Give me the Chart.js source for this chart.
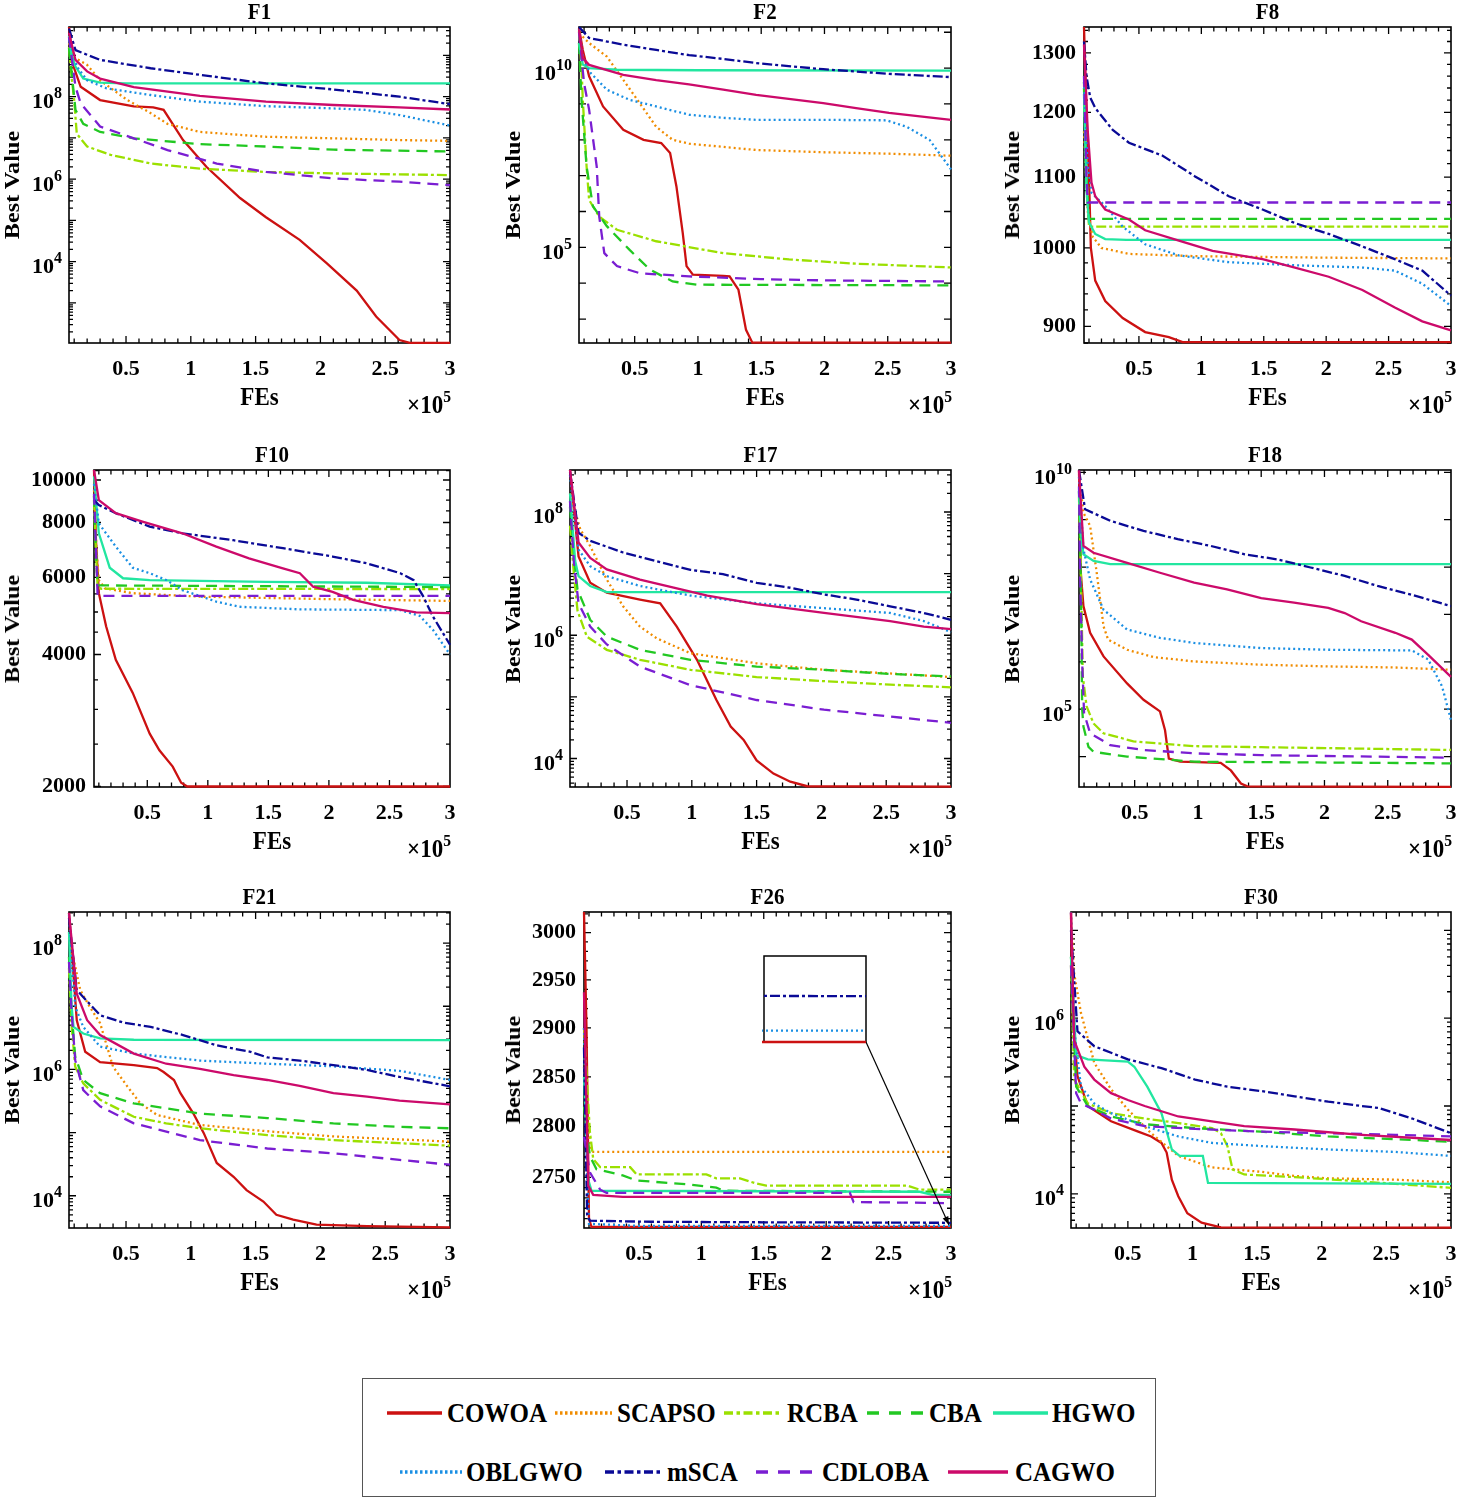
<!DOCTYPE html>
<html><head><meta charset="utf-8">
<script src="https://cdn.jsdelivr.net/npm/chart.js@4.4.1/dist/chart.umd.min.js"></script>
<style>
html,body{margin:0;padding:0;background:#fff;}
#wrap{position:relative;width:1458px;height:1500px;overflow:hidden;font-family:"Liberation Serif","Times New Roman",serif;font-weight:bold;color:#000;}
canvas{position:absolute;}
.t{position:absolute;white-space:nowrap;line-height:1;}
.t sup{font-size:0.68em;position:relative;top:-0.62em;vertical-align:baseline;}
.t .e{font-size:16px;position:relative;top:-10px;vertical-align:baseline;}
#legend{position:absolute;left:362px;top:1378px;width:792px;height:117px;border:1.5px solid #555;box-sizing:content-box;}
</style></head>
<body><div id="wrap"><div id="legend"></div></div>
<script>
// ---------- series / categories ----------
const NAMES = ['COWOA','SCAPSO','RCBA','CBA','HGWO','OBLGWO','mSCA','CDLOBA','CAGWO'];
const X_TICKS = [0.5,1,1.5,2,2.5,3];
const X_MIN = 0.06, X_MAX = 3;

// ---------- F1 ----------
const F1_COWOA = [[0.06,4.9e9],[0.09,6e8],[0.15,1.74e8],[0.3,8.3e7],[0.56,5.8e7],[0.71,5.5e7],[0.79,4.8e7],[0.94,8.9e6],[1.12,2.0e6],[1.38,3.5e5],[1.58,1.2e5],[1.84,3.4e4],[2.05,9.1e3],[2.28,2.0e3],[2.43,4.7e2],[2.61,1.26e2],[2.69,1.08e2],[3,1.08e2]];
const F1_SCAPSO = [[0.06,2e9],[0.09,9.3e8],[0.2,5.9e8],[0.3,2.5e8],[0.51,8.3e7],[0.69,4e7],[0.82,2.2e7],[1.07,1.4e7],[1.58,1.07e7],[2.1,9.8e6],[2.61,8.9e6],[3,8.5e6]];
const F1_RCBA = [[0.06,1.6e9],[0.08,3e8],[0.1,8.3e7],[0.12,1.26e7],[0.2,6.2e6],[0.38,3.9e6],[0.69,2.4e6],[1.07,1.8e6],[1.58,1.5e6],[2.1,1.38e6],[3,1.26e6]];
const F1_CBA = [[0.06,1.5e9],[0.08,4e8],[0.11,4.8e7],[0.17,2.2e7],[0.3,1.4e7],[0.56,9.8e6],[1.07,7.1e6],[1.58,6.2e6],[2.1,5.2e6],[3,4.7e6]];
const F1_HGWO = [[0.06,3e9],[0.08,1e9],[0.11,5.4e8],[0.17,2.75e8],[0.3,2.2e8],[0.5,2.1e8],[3,2.1e8]];
const F1_OBLGWO = [[0.06,2.5e9],[0.12,5.4e8],[0.2,2.5e8],[0.35,1.6e8],[0.69,1.1e8],[1.07,7.6e7],[1.58,5.9e7],[2.1,5.2e7],[2.35,4.8e7],[2.61,3.6e7],[3,2.0e7]];
const F1_mSCA = [[0.06,4.5e9],[0.11,1.35e9],[0.3,7.8e8],[0.69,4.9e8],[1.07,3.4e8],[1.58,2.1e8],[2.1,1.5e8],[2.61,1e8],[3,6.6e7]];
const F1_CDLOBA = [[0.06,2.8e9],[0.11,1.74e8],[0.15,6.9e7],[0.3,1.9e7],[0.56,9.8e6],[0.82,5.1e6],[1.2,2.4e6],[1.58,1.5e6],[2.1,1.05e6],[2.61,8.7e5],[3,7.2e5]];
const F1_CAGWO = [[0.06,3.5e9],[0.11,7.8e8],[0.2,4.1e8],[0.3,2.75e8],[0.56,1.7e8],[1.07,1.05e8],[1.58,7.6e7],[2.1,6.3e7],[2.61,5.5e7],[3,4.9e7]];
const F1_YTICKS = [1e4,1e6,1e8];
const F1_YLABELS = ['10^4','10^6','10^8'];

// ---------- F2 ----------
const F2_COWOA = [[0.06,1.3e11],[0.09,3.2e10],[0.14,5.9e9],[0.25,8.5e8],[0.41,1.9e8],[0.57,1e8],[0.71,8.1e7],[0.78,4.3e7],[0.83,5e6],[0.88,2.5e5],[0.91,3e4],[0.96,1.74e4],[1.2,1.6e4],[1.25,1.55e4],[1.32,6.6e3],[1.38,5e2],[1.43,2.2e2],[3,2.2e2]];
const F2_SCAPSO = [[0.06,9.5e10],[0.14,5e10],[0.28,2.1e10],[0.41,4.7e9],[0.54,1.05e9],[0.67,2.3e8],[0.8,1e8],[0.93,7.8e7],[1.46,5.2e7],[1.99,4.5e7],[2.51,4.1e7],[3,3.6e7]];
const F2_RCBA = [[0.06,1.1e11],[0.08,1e10],[0.09,1.3e9],[0.12,1.8e7],[0.14,2.1e6],[0.22,7.2e5],[0.36,3.1e5],[0.67,1.48e5],[1.2,6.9e4],[1.72,4.6e4],[2.25,3.5e4],[3,2.75e4]];
const F2_CBA = [[0.06,5e10],[0.08,1.3e9],[0.12,1.8e7],[0.17,1.4e6],[0.28,3.9e5],[0.46,8.5e4],[0.62,2.4e4],[0.8,1.12e4],[0.99,9.1e3],[3,8.7e3]];
const F2_HGWO = [[0.06,5e10],[0.09,1.26e10],[0.14,1e10],[0.36,9e9],[1,8.7e9],[3,8.5e9]];
const F2_OBLGWO = [[0.06,1.2e11],[0.09,2.1e10],[0.14,8.1e9],[0.28,2.5e9],[0.46,1.3e9],[0.67,8.5e8],[0.93,5e8],[1.2,4.1e8],[1.46,3.6e8],[2.0,3.6e8],[2.49,3.5e8],[2.65,2.3e8],[2.83,1e8],[3,1.5e7]];
const F2_mSCA = [[0.06,1.4e11],[0.14,6.9e10],[0.41,4.5e10],[0.67,3.2e10],[0.93,2.3e10],[1.2,1.8e10],[1.46,1.38e10],[1.99,9.3e9],[2.51,6.9e9],[3,5.6e9]];
const F2_CDLOBA = [[0.06,1e11],[0.1,3.8e9],[0.14,6.9e8],[0.2,1.8e7],[0.22,7.2e5],[0.26,6.9e4],[0.36,3e4],[0.54,1.9e4],[0.93,1.55e4],[1.5,1.3e4],[2,1.2e4],[3,1.12e4]];
const F2_CAGWO = [[0.06,1.2e11],[0.09,1.9e10],[0.14,1.23e10],[0.41,6.5e9],[0.67,4.6e9],[0.93,3.5e9],[1.2,2.5e9],[1.46,1.8e9],[1.99,1.05e9],[2.25,7.6e8],[2.51,5.6e8],[3,3.6e8]];
const F2_YTICKS = [1e5,1e10];
const F2_YLABELS = ['10^5','10^10'];

// ---------- F8 ----------
const F8_COWOA = [[0.06,1346],[0.08,1200],[0.1,1100],[0.115,1000],[0.15,957],[0.23,931],[0.37,910],[0.55,893],[0.74,887],[0.85,881],[3,881]];
const F8_SCAPSO = [[0.06,1170],[0.09,1050],[0.13,1015],[0.2,1000],[0.42,992],[0.95,989],[2,987],[3,986]];
const F8_RCBA = [[0.06,1250],[0.08,1100],[0.1,1029],[3,1029]];
const F8_CBA = [[0.06,1240],[0.08,1100],[0.1,1040],[3,1040]];
const F8_HGWO = [[0.06,1230],[0.08,1080],[0.1,1035],[0.15,1019],[0.23,1012],[0.4,1011],[3,1011]];
const F8_OBLGWO = [[0.06,1250],[0.09,1120],[0.12,1077],[0.23,1058],[0.37,1029],[0.55,1005],[0.82,990],[1.22,981],[1.75,977],[2.29,974],[2.55,970],[2.77,953],[3,925]];
const F8_mSCA = [[0.06,1320],[0.08,1260],[0.11,1224],[0.15,1207],[0.29,1172],[0.42,1152],[0.69,1132],[0.95,1101],[1.22,1072],[1.49,1053],[1.75,1034],[2.02,1019],[2.29,1002],[2.55,985],[2.77,970],[3,938]];
const F8_CDLOBA = [[0.06,1260],[0.08,1100],[0.09,1063],[3,1063]];
const F8_CAGWO = [[0.06,1315],[0.09,1170],[0.12,1092],[0.15,1072],[0.23,1053],[0.42,1039],[0.55,1024],[0.82,1010],[1.09,996],[1.49,985],[1.75,974],[2.02,962],[2.29,945],[2.55,923],[2.77,906],[3,895]];
const F8_YTICKS = [900,1000,1100,1200,1300];
const F8_YLABELS = ['900','1000','1100','1200','1300'];

// ---------- F10 ----------
const F10_COWOA = [[0.06,10540],[0.076,7300],[0.1,5520],[0.16,4640],[0.24,3890],[0.38,3270],[0.52,2640],[0.6,2420],[0.71,2220],[0.78,2040],[0.83,2000],[3,2000]];
const F10_SCAPSO = [[0.06,9500],[0.08,7000],[0.1,5910],[0.15,5660],[0.38,5520],[0.93,5420],[2,5350],[3,5300]];
const F10_RCBA = [[0.06,9000],[0.075,7000],[0.09,5700],[0.12,5650],[3,5640]];
const F10_CBA = [[0.06,9200],[0.075,7000],[0.09,5750],[3,5700]];
const F10_HGWO = [[0.06,10200],[0.1,7560],[0.19,6310],[0.3,5970],[0.52,5910],[1.48,5860],[2.31,5830],[3,5750]];
const F10_OBLGWO = [[0.06,9800],[0.1,7960],[0.24,7050],[0.38,6310],[0.52,6130],[0.66,5910],[0.79,5610],[1.07,5280],[1.26,5140],[1.76,5070],[2.59,5050],[2.75,4900],[2.86,4550],[3,4000]];
const F10_mSCA = [[0.06,9000],[0.1,8770],[0.24,8400],[0.52,7830],[0.79,7560],[1.21,7290],[1.62,6990],[2.03,6690],[2.31,6460],[2.59,6130],[2.7,5910],[2.78,5420],[2.86,4880],[3,4210]];
const F10_CDLOBA = [[0.06,9300],[0.08,6500],[0.09,5440],[3,5440]];
const F10_CAGWO = [[0.06,10540],[0.1,9000],[0.24,8400],[0.46,8040],[0.79,7560],[1.07,7050],[1.34,6630],[1.62,6290],[1.76,6130],[1.87,5710],[2.03,5560],[2.2,5330],[2.45,5140],[2.72,4990],[3,4970]];
const F10_YTICKS = [2000,4000,6000,8000,10000];
const F10_YLABELS = ['2000','4000','6000','8000','10000'];

// ---------- F17 ----------
const F17_COWOA = [[0.06,4.8e8],[0.126,1.9e7],[0.216,7.1e6],[0.344,4.9e6],[0.6,3.8e6],[0.756,3.3e6],[0.884,1.38e6],[1.04,4e5],[1.19,8.9e4],[1.3,3.3e4],[1.4,2e4],[1.5,9.3e3],[1.63,5.7e3],[1.76,4.2e3],[1.89,3.55e3],[3,3.5e3]];
const F17_SCAPSO = [[0.06,2e8],[0.14,5.2e7],[0.216,2.8e7],[0.344,8e6],[0.47,2.95e6],[0.6,1.38e6],[0.73,8.9e5],[0.99,5.1e5],[1.5,3.5e5],[2.02,2.75e5],[2.53,2.4e5],[3,2.1e5]];
const F17_RCBA = [[0.06,6e7],[0.09,1e7],[0.118,2.5e6],[0.19,9.5e5],[0.344,5.8e5],[0.6,4e5],[0.99,2.75e5],[1.5,2.1e5],[2.02,1.8e5],[2.53,1.58e5],[3,1.43e5]];
const F17_CBA = [[0.06,1.2e8],[0.1,1.2e7],[0.118,5.5e6],[0.216,1.78e6],[0.344,9.5e5],[0.6,5.8e5],[0.99,4e5],[1.5,3.1e5],[2.02,2.75e5],[2.53,2.35e5],[3,2.15e5]];
const F17_HGWO = [[0.06,2e8],[0.1,1.6e7],[0.126,9.1e6],[0.216,6.3e6],[0.344,5e6],[3,5e6]];
const F17_OBLGWO = [[0.06,4e8],[0.126,2.45e7],[0.216,1.32e7],[0.344,9.1e6],[0.6,6.3e6],[0.99,4.4e6],[1.5,3.3e6],[2.02,2.75e6],[2.53,2.3e6],[2.79,1.7e6],[3,1.12e6]];
const F17_mSCA = [[0.06,4.5e8],[0.126,4.6e7],[0.216,3.4e7],[0.47,2.2e7],[0.73,1.58e7],[0.99,1.15e7],[1.24,9.8e6],[1.5,7.1e6],[1.76,5.9e6],[2.02,4.6e6],[2.27,3.8e6],[2.53,2.95e6],[2.79,2.3e6],[3,1.78e6]];
const F17_CDLOBA = [[0.06,1.5e8],[0.09,1.5e7],[0.126,3.3e6],[0.216,1.38e6],[0.344,7.1e5],[0.6,3.1e5],[0.99,1.55e5],[1.5,8.9e4],[2.02,6.2e4],[2.53,4.8e4],[3,3.8e4]];
const F17_CAGWO = [[0.06,4.8e8],[0.126,3.2e7],[0.216,1.8e7],[0.344,1.17e7],[0.6,8e6],[0.86,5.9e6],[1.12,4.4e6],[1.5,3.2e6],[2.02,2.3e6],[2.53,1.7e6],[2.79,1.38e6],[3,1.26e6]];
const F17_YTICKS = [1e4,1e6,1e8];
const F17_YLABELS = ['10^4','10^6','10^8'];

// ---------- F18 ----------
const F18_COWOA = [[0.06,1.1e10],[0.074,7.6e7],[0.095,1.5e7],[0.148,4.1e6],[0.254,1.3e6],[0.44,3.5e5],[0.57,1.58e5],[0.7,9e4],[0.74,3.6e4],[0.77,9.1e3],[0.86,7.8e3],[1.18,7.4e3],[1.26,5.1e3],[1.34,2.7e3],[1.39,2.35e3],[3,2.3e3]];
const F18_SCAPSO = [[0.06,9e9],[0.095,1.4e9],[0.148,7.4e8],[0.2,7.6e7],[0.254,5.6e6],[0.29,2.95e6],[0.44,1.8e6],[0.65,1.26e6],[0.97,1.02e6],[1.5,8.7e5],[2.03,8e5],[2.56,7.6e5],[3,6.8e5]];
const F18_RCBA = [[0.06,3e9],[0.075,8e7],[0.09,5e5],[0.12,1.15e5],[0.175,5e4],[0.254,3.1e4],[0.49,2.1e4],[0.97,1.66e4],[1.5,1.58e4],[3,1.38e4]];
const F18_CBA = [[0.06,4e9],[0.075,5e7],[0.085,1e5],[0.095,4.3e4],[0.135,1.6e4],[0.175,1.26e4],[0.44,1e4],[0.97,7.8e3],[3,7.2e3]];
const F18_HGWO = [[0.06,4e9],[0.075,5e8],[0.095,1.86e8],[0.175,1.35e8],[0.307,1.15e8],[3,1.15e8]];
const F18_OBLGWO = [[0.06,8e9],[0.095,2.4e8],[0.148,5.5e7],[0.254,1.26e7],[0.44,4.8e6],[0.7,3.2e6],[0.97,2.5e6],[1.5,1.95e6],[2.03,1.8e6],[2.69,1.74e6],[2.82,1.12e6],[2.93,3e5],[3,5.9e4]];
const F18_mSCA = [[0.06,1.1e10],[0.108,1.66e9],[0.307,9.5e8],[0.57,5.8e8],[0.84,3.9e8],[1.1,2.8e8],[1.37,1.86e8],[1.63,1.45e8],[1.89,9.8e7],[2.16,6.5e7],[2.42,4e7],[2.69,2.6e7],[3,1.5e7]];
const F18_CDLOBA = [[0.06,5e9],[0.07,5e7],[0.085,1e6],[0.1,8.3e4],[0.148,3.1e4],[0.307,1.74e4],[0.57,1.38e4],[0.97,1.17e4],[1.5,1.07e4],[3,9.5e3]];
const F18_CAGWO = [[0.06,1.1e10],[0.095,2.8e8],[0.175,2e8],[0.44,1.23e8],[0.7,7.6e7],[0.97,4.7e7],[1.23,3.4e7],[1.5,2.2e7],[1.76,1.78e7],[2.03,1.38e7],[2.16,1.07e7],[2.29,7.2e6],[2.56,4.1e6],[2.69,2.95e6],[2.82,1.4e6],[3,4.8e5]];
const F18_YTICKS = [1e5,1e10];
const F18_YLABELS = ['10^5','10^10'];

// ---------- F21 ----------
const F21_COWOA = [[0.06,3e8],[0.12,6e6],[0.185,1.9e6],[0.3,1.3e6],[0.56,1.17e6],[0.74,1.05e6],[0.79,9.1e5],[0.87,6.8e5],[0.92,4.2e5],[1.02,2e5],[1.1,9.8e4],[1.2,3.3e4],[1.33,2e4],[1.43,1.23e4],[1.56,8.1e3],[1.66,5e3],[1.79,4.2e3],[1.97,3.5e3],[2.36,3.3e3],[3,3.15e3]];
const F21_SCAPSO = [[0.06,1.2e8],[0.147,1.8e7],[0.22,9.8e6],[0.3,5.4e6],[0.4,1.1e6],[0.51,5.4e5],[0.61,2.9e5],[0.74,1.9e5],[1.07,1.32e5],[1.59,1.05e5],[2.1,8.7e4],[2.61,7.8e4],[3,7.2e4]];
const F21_RCBA = [[0.06,4e7],[0.08,5e6],[0.108,1.1e6],[0.17,6e5],[0.3,3.3e5],[0.56,1.78e5],[0.81,1.4e5],[1.07,1.17e5],[1.59,9.1e4],[2.1,7.6e4],[2.61,6.8e4],[3,6.2e4]];
const F21_CBA = [[0.06,6e7],[0.08,8e6],[0.108,1.6e6],[0.17,6.8e5],[0.3,4.2e5],[0.56,2.9e5],[1.07,2e5],[1.59,1.7e5],[2.1,1.4e5],[2.61,1.23e5],[3,1.17e5]];
const F21_HGWO = [[0.06,1.5e8],[0.08,1e7],[0.095,4.7e6],[0.17,3.7e6],[0.3,3.1e6],[0.56,2.95e6],[3,2.9e6]];
const F21_OBLGWO = [[0.06,2.8e8],[0.108,9.8e6],[0.17,4.7e6],[0.3,2.3e6],[0.56,1.78e6],[1.07,1.38e6],[1.59,1.23e6],[2.1,1.12e6],[2.61,9.5e5],[3,6.8e5]];
const F21_mSCA = [[0.06,2.5e8],[0.12,1.8e7],[0.3,7.2e6],[0.48,5.5e6],[0.69,4.7e6],[0.94,3.5e6],[1.2,2.4e6],[1.46,1.9e6],[1.59,1.55e6],[1.84,1.38e6],[2.1,1.17e6],[2.36,9.8e5],[2.61,7.6e5],[3,5.4e5]];
const F21_CDLOBA = [[0.06,5e7],[0.08,8e6],[0.108,1.4e6],[0.17,4.7e5],[0.3,2.6e5],[0.56,1.4e5],[1.07,7.6e4],[1.59,5.6e4],[2.1,4.7e4],[2.61,3.7e4],[3,3.1e4]];
const F21_CAGWO = [[0.06,3e8],[0.12,1.58e7],[0.2,6e6],[0.3,3.5e6],[0.56,1.78e6],[0.81,1.23e6],[1.07,1.02e6],[1.33,8.1e5],[1.59,6.8e5],[1.84,5.5e5],[2.1,4.2e5],[2.36,3.7e5],[2.61,3.2e5],[3,2.8e5]];
const F21_YTICKS = [1e4,1e6,1e8];
const F21_YLABELS = ['10^4','10^6','10^8'];

// ---------- F26 ----------
const F26_COWOA = [[0.06,3022],[0.08,2900],[0.1,2710],[0.12,2702],[3,2702]];
const F26_SCAPSO = [[0.06,2860],[0.09,2800],[0.11,2780],[0.134,2775],[3,2775]];
const F26_RCBA = [[0.06,2900],[0.107,2795],[0.134,2768],[0.19,2760],[0.43,2760],[0.48,2753],[1.04,2753],[1.12,2749],[1.31,2749],[1.44,2744],[1.52,2742],[2.65,2742],[2.75,2738],[3,2738]];
const F26_CBA = [[0.06,2820],[0.107,2771],[0.16,2758],[0.37,2752],[0.48,2747],[0.91,2743],[1.12,2740],[1.18,2737],[3,2736]];
const F26_HGWO = [[0.06,2850],[0.094,2748],[0.12,2737],[2.75,2736],[2.85,2733],[3,2733]];
const F26_OBLGWO = [[0.06,2900],[0.085,2750],[0.1,2705],[0.5,2703],[3,2703]];
const F26_mSCA = [[0.06,2880],[0.085,2714],[0.107,2708],[0.6,2707],[1.5,2706.5],[3,2706]];
const F26_CDLOBA = [[0.06,2790],[0.107,2755],[0.19,2738],[0.24,2735],[2.19,2735],[2.22,2726],[3,2725]];
const F26_CAGWO = [[0.06,2937],[0.094,2742],[0.134,2733],[0.37,2731],[3,2731]];
const F26_YTICKS = [2750,2800,2850,2900,2950,3000];
const F26_YLABELS = ['2750','2800','2850','2900','2950','3000'];

// ---------- F30 ----------
const F30_COWOA = [[0.06,1.6e7],[0.072,1.15e6],[0.11,2.2e5],[0.19,1e5],[0.37,6.7e4],[0.58,5.1e4],[0.68,4.5e4],[0.76,3.8e4],[0.8,2.95e4],[0.84,1.45e4],[0.89,9.4e3],[0.96,6e3],[1.07,4.7e3],[1.22,4.15e3],[3,4.12e3]];
const F30_SCAPSO = [[0.06,1.4e7],[0.085,3.2e6],[0.137,1.15e6],[0.24,3.1e5],[0.37,1.55e5],[0.5,9.1e4],[0.68,4.9e4],[0.89,2.7e4],[1.15,2e4],[1.53,1.78e4],[1.79,1.6e4],[2.05,1.5e4],[2.57,1.45e4],[3,1.35e4]];
const F30_RCBA = [[0.06,4e6],[0.085,2e5],[0.19,1.07e5],[0.37,8.3e4],[0.63,7.2e4],[0.89,6.4e4],[1.15,5.6e4],[1.22,4.9e4],[1.27,3.5e4],[1.31,1.9e4],[1.4,1.66e4],[1.79,1.55e4],[2.31,1.38e4],[3,1.17e4]];
const F30_CBA = [[0.06,5e6],[0.1,1.66e5],[0.19,1e5],[0.37,7.6e4],[0.63,6.2e4],[1.02,5.6e4],[1.53,5.1e4],[2.05,4.5e4],[2.57,4.2e4],[3,3.9e4]];
const F30_HGWO = [[0.06,5e6],[0.1,3.8e5],[0.19,3.4e5],[0.5,3.2e5],[0.55,2.8e5],[0.65,1.66e5],[0.76,8.3e4],[0.84,3.2e4],[0.9,2.7e4],[1.08,2.7e4],[1.12,1.33e4],[3,1.3e4]];
const F30_OBLGWO = [[0.06,1.6e7],[0.085,7.4e5],[0.137,1.66e5],[0.24,1.07e5],[0.37,8.3e4],[0.63,5.9e4],[0.89,4.5e4],[1.15,3.8e4],[1.53,3.5e4],[2.05,3.2e4],[2.57,3e4],[3,2.7e4]];
const F30_mSCA = [[0.06,1e7],[0.11,7.1e5],[0.24,4.8e5],[0.5,3.4e5],[0.76,2.7e5],[1.02,2e5],[1.27,1.66e5],[1.53,1.48e5],[1.79,1.29e5],[2.05,1.12e5],[2.31,1e5],[2.44,9.5e4],[2.7,7.2e4],[3,4.9e4]];
const F30_CDLOBA = [[0.06,4e6],[0.1,1.4e5],[0.137,1.07e5],[0.24,9.1e4],[0.37,7.2e4],[0.63,5.9e4],[1.02,5.5e4],[1.53,5.1e4],[2.05,4.9e4],[2.57,4.7e4],[3,4.5e4]];
const F30_CAGWO = [[0.06,1.6e7],[0.085,5.6e5],[0.163,2.8e5],[0.24,2e5],[0.37,1.4e5],[0.5,1.17e5],[0.63,1e5],[0.89,7.6e4],[1.15,6.7e4],[1.4,5.9e4],[1.79,5.4e4],[2.31,4.7e4],[3,4.1e4]];
const F30_YTICKS = [1e4,1e6];
const F30_YLABELS = ['10^4','10^6'];

// ---------- styles ----------
const COLORS = ['#CC1111','#F08C00','#9BE000','#22C822','#22E6A0','#1A8FE3','#0A0A96','#7A1ED2','#CC0A6A'];
const DASHES = [[],[2,3],[10,3,3,3],[11,7],[],[2,3],[10,3,3,3],[11,7],[]];
const LEG_DASH = ['', '2.5,2.5', '9,3.5,3.5,3.5', '12,10', '', '2.5,2.5', '9,3.5,3.5,3.5', '12,10', ''];
const FONT_FAMILY = '"Liberation Serif","Times New Roman",serif';
const TICK_FONT = {family: FONT_FAMILY, size: 22, weight: 'bold'};
const STRETCH = 1.1;

// ---------- layout ----------
const BV_X = [12, 512.5, 1012];
const PANELS = [
  {title:'F1',  col:0, L:69,   R:450,  T:27,  B:343,  ymin:107,  ymax:4.9e9,  yt:F1_YTICKS,  yl:F1_YLABELS,  minor:'log',    series:[F1_COWOA,F1_SCAPSO,F1_RCBA,F1_CBA,F1_HGWO,F1_OBLGWO,F1_mSCA,F1_CDLOBA,F1_CAGWO]},
  {title:'F2',  col:1, L:579,  R:951,  T:27,  B:343,  ymin:215,  ymax:1.4e11, yt:F2_YTICKS,  yl:F2_YLABELS,  minor:'decade', series:[F2_COWOA,F2_SCAPSO,F2_RCBA,F2_CBA,F2_HGWO,F2_OBLGWO,F2_mSCA,F2_CDLOBA,F2_CAGWO]},
  {title:'F8',  col:2, L:1084, R:1451, T:27,  B:343,  ymin:880,  ymax:1346,   yt:F8_YTICKS,  yl:F8_YLABELS,  minor:20,       series:[F8_COWOA,F8_SCAPSO,F8_RCBA,F8_CBA,F8_HGWO,F8_OBLGWO,F8_mSCA,F8_CDLOBA,F8_CAGWO]},
  {title:'F10', col:0, L:94,   R:450,  T:470, B:787,  ymin:1995, ymax:10540,  yt:F10_YTICKS, yl:F10_YLABELS, minor:500,      series:[F10_COWOA,F10_SCAPSO,F10_RCBA,F10_CBA,F10_HGWO,F10_OBLGWO,F10_mSCA,F10_CDLOBA,F10_CAGWO]},
  {title:'F17', col:1, L:570,  R:951,  T:470, B:787,  ymin:3450, ymax:4.8e8,  yt:F17_YTICKS, yl:F17_YLABELS, minor:'log',    series:[F17_COWOA,F17_SCAPSO,F17_RCBA,F17_CBA,F17_HGWO,F17_OBLGWO,F17_mSCA,F17_CDLOBA,F17_CAGWO]},
  {title:'F18', col:2, L:1079, R:1451, T:470, B:787,  ymin:2280, ymax:1.12e10,yt:F18_YTICKS, yl:F18_YLABELS, minor:'decade', series:[F18_COWOA,F18_SCAPSO,F18_RCBA,F18_CBA,F18_HGWO,F18_OBLGWO,F18_mSCA,F18_CDLOBA,F18_CAGWO]},
  {title:'F21', col:0, L:69,   R:450,  T:912, B:1228, ymin:3090, ymax:3.1e8,  yt:F21_YTICKS, yl:F21_YLABELS, minor:'log',    series:[F21_COWOA,F21_SCAPSO,F21_RCBA,F21_CBA,F21_HGWO,F21_OBLGWO,F21_mSCA,F21_CDLOBA,F21_CAGWO]},
  {title:'F26', col:1, L:584,  R:951,  T:912, B:1228, ymin:2701, ymax:3022,   yt:F26_YTICKS, yl:F26_YLABELS, minor:10,       series:[F26_COWOA,F26_SCAPSO,F26_RCBA,F26_CBA,F26_HGWO,F26_OBLGWO,F26_mSCA,F26_CDLOBA,F26_CAGWO], inset:true},
  {title:'F30', col:2, L:1071, R:1451, T:912, B:1228, ymin:4080, ymax:1.62e7, yt:F30_YTICKS, yl:F30_YLABELS, minor:'log',    series:[F30_COWOA,F30_SCAPSO,F30_RCBA,F30_CBA,F30_HGWO,F30_OBLGWO,F30_mSCA,F30_CDLOBA,F30_CAGWO]}
];
const INSET = {L:764, T:956, R:866, B:1042, xmin:2.95, xmax:3, ymin:2702, ymax:2709.5, show:[6,5,0]};

const wrap = document.getElementById('wrap');
function addText(html, x, y, size, tx){
  const d = document.createElement('div');
  d.className = 't';
  d.innerHTML = html;
  d.style.left = x + 'px'; d.style.top = y + 'px';
  d.style.fontSize = size + 'px';
  d.style.transform = tx;
  wrap.appendChild(d);
  return d;
}

function yMarks(p){
  const out = [];
  if (p.minor === 'log' || p.minor === 'decade'){
    for (let d = Math.floor(Math.log10(p.ymin)); d <= Math.ceil(Math.log10(p.ymax)); d++){
      for (let k = 1; k <= 9; k++){
        if (p.minor === 'decade' && k > 1) break;
        const v = k * Math.pow(10, d);
        if (v >= p.ymin && v <= p.ymax) out.push([v, k === 1 ? 7 : 4]);
      }
    }
  } else {
    for (let v = Math.ceil(p.ymin / p.minor) * p.minor; v <= p.ymax; v += p.minor)
      out.push([v, p.yt.includes(v) ? 7 : 4]);
  }
  return out;
}

// axes box + inward ticks (drawn beneath the curves, MATLAB style), optional zoom connector on top
function makeFrame(marks, connector){
  return {
    id: 'frame',
    beforeDatasetsDraw(chart){
      const ctx = chart.ctx, a = chart.chartArea, xs = chart.scales.x, ys = chart.scales.y;
      ctx.save();
      ctx.setLineDash([]);
      ctx.strokeStyle = '#000';
      ctx.lineWidth = 1.3;
      ctx.beginPath();
      for (let k = 1; k <= 30; k++){
        const v = k / 10;
        if (v <= X_MIN || v >= X_MAX) continue;
        const px = xs.getPixelForValue(v);
        const len = (k % 5 === 0) ? 7 : 4.5;
        ctx.moveTo(px, a.bottom); ctx.lineTo(px, a.bottom - len);
        ctx.moveTo(px, a.top); ctx.lineTo(px, a.top + len);
      }
      for (const [v, len] of marks){
        const py = ys.getPixelForValue(v);
        ctx.moveTo(a.left, py); ctx.lineTo(a.left + len, py);
        ctx.moveTo(a.right, py); ctx.lineTo(a.right - len, py);
      }
      ctx.stroke();
      ctx.lineWidth = 1.6;
      ctx.strokeRect(a.left, a.top, a.right - a.left, a.bottom - a.top);
      ctx.restore();
    },
    afterDraw(chart){
      if (!connector) return;
      const ctx = chart.ctx, xs = chart.scales.x, ys = chart.scales.y;
      const x0 = connector.x0, y0 = connector.y0;
      const x1 = xs.getPixelForValue(X_MAX) - 2, y1 = ys.getPixelForValue(ys.min) - 3;
      ctx.save();
      ctx.setLineDash([]);
      ctx.strokeStyle = '#000'; ctx.lineWidth = 1.2;
      ctx.beginPath(); ctx.moveTo(x0, y0); ctx.lineTo(x1, y1); ctx.stroke();
      const ang = Math.atan2(y1 - y0, x1 - x0), h = 9;
      ctx.beginPath();
      ctx.moveTo(x1, y1);
      ctx.lineTo(x1 - h * Math.cos(ang - 0.35), y1 - h * Math.sin(ang - 0.35));
      ctx.lineTo(x1 - h * Math.cos(ang + 0.35), y1 - h * Math.sin(ang + 0.35));
      ctx.closePath(); ctx.fillStyle = '#000'; ctx.fill();
      ctx.restore();
    }
  };
}

function datasetsFor(series, idx){
  return idx.map(i => ({
    label: NAMES[i], data: series[i], borderColor: COLORS[i], backgroundColor: COLORS[i],
    borderWidth: 2.3, borderDash: DASHES[i], pointRadius: 0, fill: false, tension: 0,
    clip: 2, order: NAMES.length - i
  }));
}

PANELS.forEach(p => {
  const YW = Math.min(80, p.L), PADT = 32, PADR = 26, XH = 46;
  const W = YW + (p.R - p.L) + PADR, H = PADT + (p.B - p.T) + XH;
  const sup = p.yl[0].includes('^');
  const cv = document.createElement('canvas');
  cv.width = W; cv.height = H;
  const cl = p.L - YW, ct = p.T - PADT;
  cv.style.left = cl + 'px'; cv.style.top = ct + 'px';
  cv.style.width = W + 'px'; cv.style.height = H + 'px';
  wrap.appendChild(cv);
  const connector = p.inset ? {x0: INSET.R - cl, y0: INSET.B - ct} : null;
  const chart = new Chart(cv, {
    type: 'line',
    data: {datasets: datasetsFor(p.series, NAMES.map((_, i) => i))},
    options: {
      responsive: false, animation: false, events: [], devicePixelRatio: 1,
      layout: {padding: {top: PADT, right: PADR, left: 0, bottom: 0}},
      plugins: {legend: {display: false}, tooltip: {enabled: false}},
      scales: {
        x: {
          type: 'linear', min: X_MIN, max: X_MAX,
          afterBuildTicks: s => { s.ticks = X_TICKS.map(v => ({value: v})); },
          afterFit: s => { s.height = XH; },
          grid: {display: false, drawTicks: false}, border: {display: false},
          ticks: {autoSkip: false, maxRotation: 0, minRotation: 0, padding: 13, color: '#000', font: TICK_FONT, callback: v => String(v)}
        },
        y: {
          type: 'logarithmic', min: p.ymin, max: p.ymax,
          afterBuildTicks: s => { s.ticks = p.yt.map(v => ({value: v})); },
          afterFit: s => { s.width = YW; },
          grid: {display: false, drawTicks: false}, border: {display: false},
          ticks: {display: !sup, autoSkip: false, padding: 8, color: '#000', font: TICK_FONT, callback: (v, i) => p.yl[i]}
        }
      }
    },
    plugins: [makeFrame(yMarks(p), connector)]
  });
  // power-of-ten tick labels, placed with the chart's own y scale
  if (sup){
    const ys = chart.scales.y;
    p.yt.forEach((v, i) => {
      const [b, e] = p.yl[i].split('^');
      const py = ct + ys.getPixelForValue(v);
      addText(b + '<span class="e">' + e + '</span>', p.L - 7, py - 6.5, 22, 'translateX(-100%)');
    });
  }
  const cx = (p.L + p.R) / 2;
  addText(p.title, cx, p.T - 15, 21, 'translate(-50%,-50%) scale(1,' + STRETCH + ')');
  addText('FEs', cx, p.B + 54, 23, 'translate(-50%,-50%) scale(1,' + STRETCH + ')');
  addText('×10<sup>5</sup>', p.R + 1, p.B + 62, 23, 'translate(-100%,-50%) scale(1,' + STRETCH + ')');
  addText('Best Value', BV_X[p.col], (p.T + p.B) / 2, 22, 'translate(-50%,-50%) rotate(-90deg) scale(' + STRETCH + ',1)');

  if (p.inset){
    const IP = 4;
    const ic = document.createElement('canvas');
    const iw = INSET.R - INSET.L + 2 * IP, ih = INSET.B - INSET.T + 2 * IP;
    ic.width = iw; ic.height = ih;
    ic.style.left = (INSET.L - IP) + 'px'; ic.style.top = (INSET.T - IP) + 'px';
    ic.style.width = iw + 'px'; ic.style.height = ih + 'px';
    wrap.appendChild(ic);
    new Chart(ic, {
      type: 'line',
      data: {datasets: datasetsFor(p.series, INSET.show)},
      options: {
        responsive: false, animation: false, events: [], devicePixelRatio: 1,
        layout: {padding: IP},
        plugins: {legend: {display: false}, tooltip: {enabled: false}},
        scales: {
          x: {type: 'linear', display: false, min: INSET.xmin, max: INSET.xmax},
          y: {type: 'linear', display: false, min: INSET.ymin, max: INSET.ymax}
        }
      },
      plugins: [{
        id: 'insetBox',
        beforeDatasetsDraw(chart){
          const a = chart.chartArea, ctx = chart.ctx;
          ctx.save();
          ctx.fillStyle = '#fff'; ctx.fillRect(a.left, a.top, a.right - a.left, a.bottom - a.top);
          ctx.setLineDash([]); ctx.strokeStyle = '#000'; ctx.lineWidth = 1.5;
          ctx.strokeRect(a.left, a.top, a.right - a.left, a.bottom - a.top);
          ctx.restore();
        }
      }]
    });
  }
});

// ---------- legend ----------
const LEG_POS = [[387,442,447,1413],[555,612,617,1413],[724,781,787,1413],[867,924,929,1413],[993,1048,1052,1413],
                 [400,462,466,1472],[605,660,667,1472],[756,815,822,1472],[948,1008,1015,1472]];
NAMES.forEach((n, i) => {
  const [x0, x1, tx, cy] = LEG_POS[i];
  const w = x1 - x0;
  const sv = document.createElementNS('http://www.w3.org/2000/svg', 'svg');
  sv.setAttribute('width', w); sv.setAttribute('height', 10);
  sv.style.position = 'absolute'; sv.style.left = x0 + 'px'; sv.style.top = (cy - 5) + 'px';
  const ln = document.createElementNS('http://www.w3.org/2000/svg', 'line');
  ln.setAttribute('x1', 0); ln.setAttribute('y1', 5); ln.setAttribute('x2', w); ln.setAttribute('y2', 5);
  ln.setAttribute('stroke', COLORS[i]); ln.setAttribute('stroke-width', 3.5);
  if (LEG_DASH[i]) ln.setAttribute('stroke-dasharray', LEG_DASH[i]);
  sv.appendChild(ln);
  wrap.appendChild(sv);
  addText(n, tx, cy, 25, 'translate(0,-50%) scale(1,' + STRETCH + ')');
});
</script>
</body></html>
